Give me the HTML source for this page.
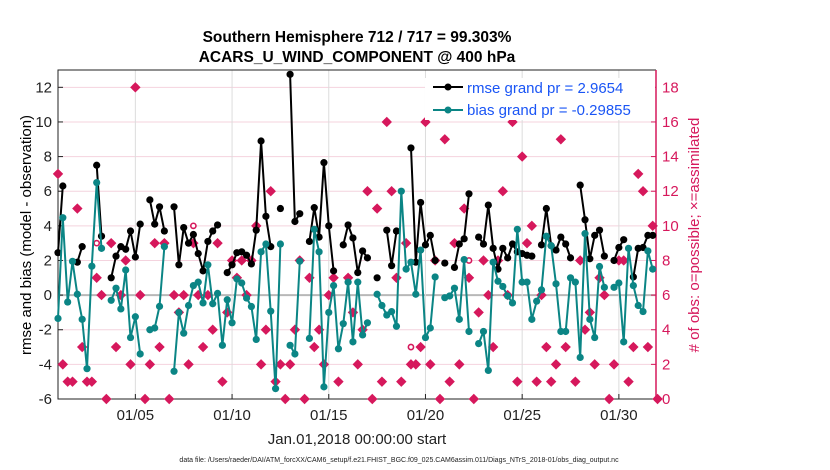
<!DOCTYPE html>
<html><head><meta charset="utf-8"><style>
html,body{margin:0;padding:0;background:#fff;}
svg{display:block;font-family:"Liberation Sans",Arial,sans-serif;}
</style></head><body>
<svg id="chart" width="830" height="470" viewBox="0 0 830 470">
<g id="grid"></g>
<g id="axes"></g>
<g id="series"></g>
<text x="357" y="42" text-anchor="middle" font-size="15.5" font-weight="bold">Southern Hemisphere 712 / 717 = 99.303%</text>
<text x="357" y="62" text-anchor="middle" font-size="15.5" font-weight="bold">ACARS_U_WIND_COMPONENT @ 400 hPa</text>
<text transform="translate(31,235) rotate(-90)" text-anchor="middle" font-size="15">rmse and bias (model - observation)</text>
<text transform="translate(699,235) rotate(-90)" text-anchor="middle" font-size="15" fill="#d6185c"># of obs: o=possible; ×=assimilated</text>
<text x="357" y="444" text-anchor="middle" font-size="15" fill="#222">Jan.01,2018 00:00:00 start</text>
<text x="399" y="462" text-anchor="middle" font-size="7" fill="#222">data file: /Users/raeder/DAI/ATM_forcXX/CAM6_setup/f.e21.FHIST_BGC.f09_025.CAM6assim.011/Diags_NTrS_2018-01/obs_diag_output.nc</text>
<g>
<rect x="425" y="78" width="230" height="42" fill="#fff"/>
<line x1="433" y1="87" x2="463" y2="87" stroke="#000" stroke-width="2"/>
<circle cx="448" cy="87" r="3.5" fill="#000"/>
<text x="467" y="93" font-size="15" fill="#1a55f5">rmse grand pr = 2.9654</text>
<line x1="433" y1="110" x2="463" y2="110" stroke="#0b8585" stroke-width="2"/>
<circle cx="448" cy="110" r="3.5" fill="#0b8585"/>
<text x="467" y="115" font-size="15" fill="#1a55f5">bias grand pr = -0.29855</text>
</g>
</svg>
<script>
var rmse=[2.45,6.3,null,null,1.9,2.8,null,null,7.5,3.4,null,1.0,2.25,2.8,2.65,3.7,2.2,4.1,null,5.5,4.1,5.1,3.7,null,5.1,1.75,3.9,3.0,3.5,2.4,1.4,3.1,3.7,4.05,null,1.3,1.75,2.45,2.5,2.3,1.8,3.75,8.9,4.55,2.8,null,5.0,null,12.75,4.25,4.7,null,3.1,5.05,3.35,7.65,4.0,1.4,null,2.9,4.05,3.3,1.3,2.55,2.15,null,1.0,null,3.75,1.7,3.7,null,null,8.5,1.9,5.35,2.9,3.45,2.0,null,1.85,null,1.6,2.95,3.25,5.85,null,3.35,2.95,5.2,2.7,1.5,2.7,2.15,2.95,2.5,2.4,2.3,2.25,null,2.9,5.0,2.85,2.6,3.35,2.95,2.15,null,6.35,4.35,2.1,3.45,3.75,2.25,null,2.0,2.75,3.2,null,1.05,2.7,2.75,3.45,3.45,null];
var bias=[-1.35,4.47,-0.4,1.95,0.05,-1.4,-4.25,1.67,6.5,2.7,null,-0.3,0.4,-0.8,1.45,-2.45,-1.25,-3.4,null,-2.0,-1.9,-0.65,2.8,null,-4.4,-1.0,-2.2,-0.6,0.55,0.75,-0.45,1.75,-0.5,0.1,-2.9,-0.27,-1.6,0.93,0.7,-0.17,-0.66,-2.56,2.5,2.95,-0.93,-5.4,2.95,null,-2.9,-3.4,1.96,null,-2.5,3.8,2.5,-5.3,-1.0,0.55,-3.1,-1.65,0.75,-2.7,0.75,-2.3,-1.6,null,0.05,-0.6,-1.15,-0.95,-1.8,6.0,1.5,1.9,0.05,2.6,-2.45,-1.9,1.05,null,-0.15,-0.05,0.4,-1.4,2.05,-2.1,null,-2.8,-2.1,-4.35,1.9,0.8,0.5,-0.05,-0.45,3.8,0.75,0.75,-1.4,-0.35,0.3,3.4,2.85,0.65,-2.1,-2.1,1.0,0.75,-3.6,3.55,-1.4,-2.45,1.65,0.45,null,0.45,0.7,-2.7,2.7,0.55,-0.6,-0.95,2.55,1.5,null];
var nobsUsed=[13,2,1,1,11,3,1,1,7,6,0,9,3,6,8,2,18,6,0,2,9,3,9,0,6,5,6,2,9,6,3,6,4,9,1,5,8,7,8,6,8,10,2,4,12,1,2,0,2,4,8,0,7,3,4,2,6,7,1,null,7,5,2,4,12,0,11,1,16,12,7,1,9,2,2,3,16,2,8,0,15,1,9,2,11,7,0,5,8,6,3,8,12,6,16,1,14,9,10,1,6,3,1,2,15,3,18,1,8,4,5,2,7,6,0,2,8,8,1,3,13,12,3,10,0];
var possibleIdx=[8,28,73,85];
var possibleVal=[9,10,3,8];
var leftTicks=[12,10,8,6,4,2,0,-2,-4,-6];
var rightTicks=[18,16,14,12,10,8,6,4,2,0];
var xTickDays=[5,10,15,20,25,30];
var xTickLabels=["01/05","01/10","01/15","01/20","01/25","01/30"];
var binStartDay=1.0, binStep=0.25;

var L=58,R=656,T=70,B=399;
function xS(d){return L+(d-1)*(R-L)/(31.92-1);}
function yL(v){return B-(v+6)*(B-T)/19;}
function yR(v){return B-v*(B-T)/19;}
var NS="http://www.w3.org/2000/svg";
function mk(tag,attrs,parent){var e=document.createElementNS(NS,tag);for(var k in attrs)e.setAttribute(k,attrs[k]);parent.appendChild(e);return e;}
var grid=document.getElementById('grid'),axes=document.getElementById('axes'),ser=document.getElementById('series');
leftTicks.forEach(function(v){
  var g=mk('line',{x1:L,x2:R,y1:yL(v),y2:yL(v),stroke:v===0?'#b8b8b8':'#f4d3de','stroke-width':v===0?2:1},grid);
  
  
  var t=mk('text',{x:L-6,y:yL(v)+5,'text-anchor':'end','font-size':15,fill:'#222'},axes);
  t.textContent=String(v);
  
  
  var tk=mk('line',{x1:L,x2:L+5,y1:yL(v),y2:yL(v),stroke:'#222'},axes);
  
  
});
rightTicks.forEach(function(v){
  var t=mk('text',{x:R+6,y:yR(v)+5,'font-size':15,fill:'#d6185c'},axes);
  t.textContent=String(v);
  
  
  var tk=mk('line',{x1:R-5,x2:R,y1:yR(v),y2:yR(v),stroke:'#d6185c'},axes);
  
  
});
xTickDays.forEach(function(d,i){
  var g=mk('line',{x1:xS(d),x2:xS(d),y1:T,y2:B,stroke:'#dcdcdc'},grid);
  
  
  var tk=mk('line',{x1:xS(d),x2:xS(d),y1:B-5,y2:B,stroke:'#222'},axes);
  
  
  var t=mk('text',{x:xS(d),y:B+21,'text-anchor':'middle','font-size':15,fill:'#222'},axes);
  t.textContent=xTickLabels[i];
  
  
});
var fr=mk('path',{d:'M'+R+' '+T+'H'+L+'V'+B+'H'+R,fill:'none',stroke:'#222','stroke-width':1},axes);


var ra=mk('line',{x1:R,x2:R,y1:T,y2:B,stroke:'#d6185c','stroke-width':1.5},axes);


function dayOf(i){return binStartDay+i*binStep;}
nobsUsed.forEach(function(v,i){
  if(v===null)return;
  var cx=xS(dayOf(i)),cy=yR(v),s=5.2;
  var c=mk('circle',{cx:cx,cy:cy,r:3.6,fill:'#d6185c'},ser);
  
  
  var p=mk('path',{d:'M'+cx+' '+(cy-s)+'L'+(cx+s)+' '+cy+'L'+cx+' '+(cy+s)+'L'+(cx-s)+' '+cy+'Z',fill:'#d6185c'},ser);
  
  
});
possibleIdx.forEach(function(idx,k){
  var c=mk('circle',{cx:xS(dayOf(idx)),cy:yR(possibleVal[k]),r:2.6,fill:'#fff',stroke:'#d6185c','stroke-width':1.6},ser);
  
  
});
function drawLine(arr,color,name){
  var d='',pen=false;
  arr.forEach(function(v,i){
    if(v===null){pen=false;return;}
    d+=(pen?'L':'M')+xS(dayOf(i)).toFixed(1)+' '+yL(v).toFixed(1);pen=true;
  });
  var p=mk('path',{d:d,fill:'none',stroke:color,'stroke-width':2,'stroke-linejoin':'round'},ser);
  
  
  arr.forEach(function(v,i){
    if(v===null)return;
    var c=mk('circle',{cx:xS(dayOf(i)),cy:yL(v),r:3.6,fill:color},ser);
    
    
  });
}
drawLine(rmse,'#000','rmse');
drawLine(bias,'#0b8585','bias');
</script>
</body></html>
